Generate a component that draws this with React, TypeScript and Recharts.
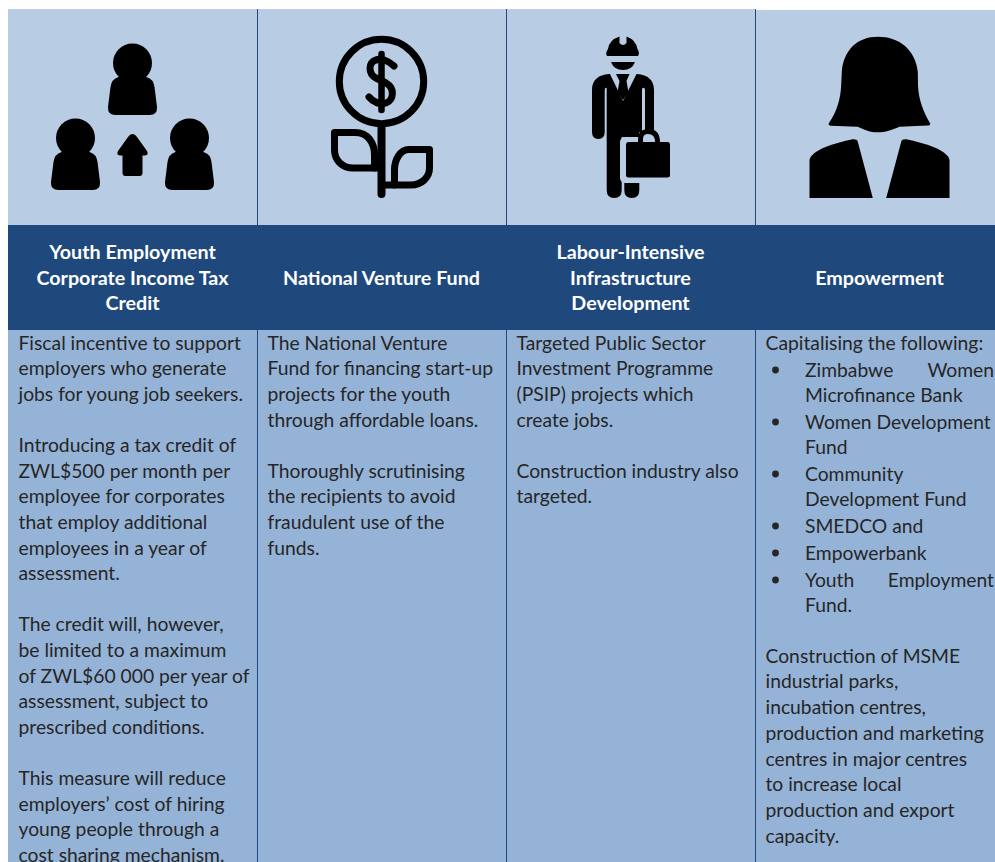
import React from "react";
import { BarChart, Bar, XAxis, YAxis } from "recharts";

const categories = ["youth", "venture", "infrastructure", "empowerment"];
const iconBand = [216, 216, 216, 216];
const headerBand = [105, 105, 105, 105];
const bodyBand = [532, 532, 532, 532];

const titles: string[][] = [
  ["Youth Employment", "Corporate Income Tax", "Credit"],
  ["National Venture Fund"],
  ["Labour-Intensive", "Infrastructure", "Development"],
  ["Empowerment"],
];

const youthText = [
  "Fiscal incentive to support", "employers who generate", "jobs for young job seekers.", "",
  "Introducing a tax credit of", "ZWL$500 per month per", "employee for corporates", "that employ additional", "employees in a year of", "assessment.", "",
  "The credit will, however,", "be limited to a maximum", "of ZWL$60 000 per year of", "assessment, subject to", "prescribed conditions.", "",
  "This measure will reduce", "employers’ cost of hiring", "young people through a", "cost sharing mechanism.",
];
const ventureText = [
  "The National Venture", "Fund for financing start-up", "projects for the youth", "through affordable loans.", "",
  "Thoroughly scrutinising", "the recipients to avoid", "fraudulent use of the", "funds.",
];
const infraText = [
  "Targeted Public Sector", "Investment Programme", "(PSIP) projects which", "create jobs.", "",
  "Construction industry also", "targeted.",
];
const empowerIntro = "Capitalising the following:";
const empowerBullets: string[][] = [
  ["Zimbabwe|Women", "Microfinance Bank"],
  ["Women Development", "Fund"],
  ["Community", "Development Fund"],
  ["SMEDCO and"],
  ["Empowerbank"],
  ["Youth|Employment", "Fund."],
];
const empowerOutro = [
  "Construction of MSME", "industrial parks,", "incubation centres,", "production and marketing", "centres in major centres", "to increase local", "production and export", "capacity.",
];

const table = categories.map((c, i) => ({
  category: c,
  iconBand: iconBand[i],
  headerBand: headerBand[i],
  bodyBand: bodyBand[i],
  title: titles[i],
}));

const FONT = "Lato, Carlito, sans-serif";
const NAVY = "#1f497d";
const LIGHT = "#b8cce4";
const MID = "#95b3d7";
const INK = "#262626";
const BODY_SIZE = 19.3;
const HEAD_SIZE = 19.7;

function Divider({ x, y, height, index }: any) {
  if (index === 0) return null;
  return <line x1={x + 0.5} x2={x + 0.5} y1={y} y2={y + height} stroke={NAVY} strokeWidth={1} />;
}

function Person({ cx, cy }: { cx: number; cy: number }) {
  const body = `M${cx - 14} ${cy + 14} Q${cx - 21} ${cy + 16} ${cx - 22} ${cy + 24} L${cx - 24.5} ${cy + 44} Q${cx - 25} ${cy + 52} ${cx - 17} ${cy + 52} L${cx + 17} ${cy + 52} Q${cx + 25} ${cy + 52} ${cx + 24.5} ${cy + 44} L${cx + 22} ${cy + 24} Q${cx + 21} ${cy + 16} ${cx + 14} ${cy + 14} Z`;
  return (
    <g fill="#000">
      <circle cx={cx} cy={cy} r={19.5} />
      <path d={body} />
    </g>
  );
}

function YouthIcon() {
  return (
    <g>
      <Person cx={132.5} cy={63} />
      <Person cx={75.5} cy={138} />
      <Person cx={189.5} cy={138} />
      <path
        d="M132.5 134 Q135 134 137 137 L147 151 Q149 155 145 155.5 H142.5 V173 Q142.5 176 139.5 176 H125.5 Q122.5 176 122.5 173 V155.5 H120 Q116 155 118 151 L128 137 Q130 134 132.5 134 Z"
        fill="#000"
      />
    </g>
  );
}

function VentureIcon() {
  return (
    <g fill="none" stroke="#000" strokeWidth={7} strokeLinecap="round" strokeLinejoin="round">
      <circle cx={381.5} cy={81.5} r={42.2} />
      <path d="M381.5 127 V194" strokeWidth={8} />
      <path d="M381.5 54 V110" strokeWidth={6.5} />
      <path d="M394 66 C388 60 380 58 376 60 C368 62 368 74 376 78 L386 83 C395 88 394 100 386 103 C380 105 373 102 369 97" />
      <path d="M334.5 132.5 H355 C368 132.5 374.5 143 374.5 155 V168 H353 C342 168 334.5 160 334.5 150 Z" />
      <path d="M374.5 168 H381" />
      <path d="M429.5 149.5 H409 C400 149.5 394.5 160 394.5 170 V185 H411 C422 185 429.5 177 429.5 168 Z" />
      <path d="M381.5 185 H394.5" />
    </g>
  );
}

function InfrastructureIcon() {
  const body =
    "M609 74 C598 75 592 80 592 90 V132 Q592 139 598.3 139 Q604.7 139 604.7 132 V90 Q605 87 606.7 88 V190 Q606.7 198 614.2 198 Q621.7 198 621.7 190 V137 H624.3 V190 Q624.3 198 631.8 198 Q639.3 198 639.3 190 V132 H642 V90 Q642 87 644 88 Q645 88 645 90 V130 H654 V90 C654 80 648 75 637 74 Z";
  return (
    <g>
      <path
        d="M607 56 Q605 53 608 49 Q609 40 619.5 36.5 V43 Q623 47 626.5 43 V36.5 Q636 40 637.5 49 Q640 53 638 56 Z"
        fill="#000"
      />
      <path d="M611 62 H635 Q632 70 623 70 Q614 70 611 62 Z" fill="#000" />
      <path d={body} fill="#000" />
      <path d="M609.5 73 H637 L623 101 Z" fill={LIGHT} />
      <path d="M616 74 H629.5 L626.5 81 L628.5 92 L623 100 L617.5 92 L619.5 81 Z" fill="#000" />
      <rect x={620} y={137} width={54} height={46} rx={5} fill={LIGHT} />
      <path d="M640.5 142 V139 Q640.5 131.5 648 131.5 Q657.5 131.5 657.5 142" fill="none" stroke="#000" strokeWidth={5} />
      <rect x={626} y={142} width={44} height={35.5} rx={2.5} fill="#000" />
    </g>
  );
}

function EmpowermentIcon() {
  return (
    <g fill="#000">
      <path d="M842.3 71.7 C844 50 858 36.7 878.3 36.7 C900 36.7 916 50 918.3 71.7 L918.5 85 C919 100 924 112 930.7 123.5 Q931 125.5 928 125.5 L900 126.7 C892 130 886 132.3 878.3 132.3 C870 132.3 866 130 858.3 126.7 L831 125.7 Q828.5 125 829.3 123.3 C837 112 841 100 841.7 85 Z" />
      <path d="M810 198 V160 C812 150 835 143 853.3 139.3 Q857.5 139 858.3 141.7 L873.3 198 Z" />
      <path d="M950 198 V160 C948 150 925 143 906.7 139.3 Q902.5 139 901.7 141.7 L886.7 198 Z" />
    </g>
  );
}

const icons: { C: () => React.ReactElement; mid: number }[] = [
  { C: YouthIcon, mid: 132.5 },
  { C: VentureIcon, mid: 381.5 },
  { C: InfrastructureIcon, mid: 630.5 },
  { C: EmpowermentIcon, mid: 880 },
];

function IconCell(props: any) {
  const { x, y, width, height, index, fill } = props;
  const { C, mid } = icons[index];
  return (
    <g>
      <rect x={x} y={index === 3 ? y + 1 : y} width={width} height={index === 3 ? height - 1 : height} fill={fill} />
      <Divider {...props} />
      <g transform={`translate(${x + width / 2 - mid}, ${y - 9})`}>
        <C />
      </g>
    </g>
  );
}

function HeaderCell(props: any) {
  const { x, y, width, height, fill, payload } = props;
  const lines: string[] = payload.title;
  const pitch = 25.4;
  const mid = y + height / 2 + 0.5;
  return (
    <g>
      <rect x={x} y={y} width={width} height={height} fill={fill} />
      {lines.map((t, i) => (
        <text
          key={t}
          x={x + width / 2}
          y={mid + (i - (lines.length - 1) / 2) * pitch}
          dy="0.35em"
          textAnchor="middle"
          fontFamily={FONT}
          fontWeight={700}
          fontSize={HEAD_SIZE}
          fill="#fff"
        >
          {t}
        </text>
      ))}
    </g>
  );
}

function TextLine({ x, y, t, right }: { x: number; y: number; t: string; right?: number }) {
  const common = { y, dy: "0.35em", fontFamily: FONT, fontSize: BODY_SIZE, fill: INK };
  if (t.includes("|") && right !== undefined) {
    const [a, b] = t.split("|");
    return (
      <g>
        <text x={x} {...common}>{a}</text>
        <text x={right} textAnchor="end" {...common}>{b}</text>
      </g>
    );
  }
  return <text x={x} {...common}>{t}</text>;
}

function BodyCell(props: any) {
  const { x, y, width, height, fill, index } = props;
  const pad = 10.5;
  const first = y + 13;
  const pitch = 25.6;
  let content: React.ReactNode;
  if (index < 3) {
    const src = [youthText, ventureText, infraText][index];
    content = src.map((t, i) =>
      t ? <TextLine key={i} x={x + pad} y={first + i * pitch} t={t} /> : null
    );
  } else {
    const nodes: React.ReactNode[] = [];
    let cy = first;
    nodes.push(<TextLine key="intro" x={x + pad} y={cy} t={empowerIntro} />);
    empowerBullets.forEach((item, b) => {
      item.forEach((t, l) => {
        cy += l === 0 ? 27 : 25;
        if (l === 0) nodes.push(<circle key={`d${b}`} cx={x + 20.5} cy={cy} r={3.4} fill={INK} />);
        nodes.push(<TextLine key={`b${b}${l}`} x={x + 50} y={cy} t={t} right={994} />);
      });
    });
    cy += 51;
    empowerOutro.forEach((t, i) => {
      nodes.push(<TextLine key={`o${i}`} x={x + pad} y={cy + i * 25.7} t={t} />);
    });
    content = nodes;
  }
  return (
    <g>
      <rect x={x} y={y} width={width} height={height} fill={fill} />
      <Divider {...props} />
      {content}
    </g>
  );
}

export default function App() {
  return (
    <div style={{ position: "absolute", left: 0, top: 0, width: 995, height: 862, overflow: "hidden" }}>
      <BarChart
        width={1004}
        height={862}
        data={table}
        barCategoryGap={0}
        barGap={0}
        margin={{ top: 9, right: 0, bottom: 0, left: 8 }}
      >
        <XAxis dataKey="category" hide />
        <YAxis type="number" domain={[0, 853]} hide />
        <Bar dataKey="bodyBand" stackId="a" fill={MID} shape={BodyCell} isAnimationActive={false} />
        <Bar dataKey="headerBand" stackId="a" fill={NAVY} shape={HeaderCell} isAnimationActive={false} />
        <Bar dataKey="iconBand" stackId="a" fill={LIGHT} shape={IconCell} isAnimationActive={false} />
      </BarChart>
    </div>
  );
}
